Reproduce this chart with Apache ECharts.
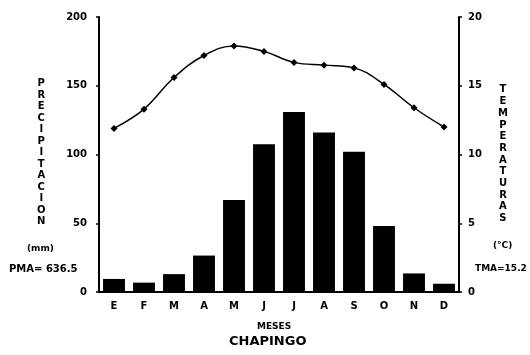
<!DOCTYPE html>
<html>
<head>
<meta charset="utf-8">
<script src="https://cdn.jsdelivr.net/npm/echarts@6/dist/echarts.min.js"></script>
<style>
  html, body { margin: 0; padding: 0; background: #fff; }
  #chart { width: 530px; height: 355px; }
</style>
</head>
<body>
<div id="chart"></div>
<script>
// meses (inicial de cada mes)
const months = ['E', 'F', 'M', 'A', 'M', 'J', 'J', 'A', 'S', 'O', 'N', 'D'];
// precipitacion mensual (mm)
const precip = [9.5, 6.8, 13, 26.5, 67, 107.5, 131, 116, 102, 48, 13.5, 6];
// temperatura media mensual (°C)
const temp = [11.9, 13.3, 15.6, 17.2, 17.9, 17.5, 16.7, 16.5, 16.3, 15.1, 13.4, 12.0];
const precipTicks = [0, 50, 100, 150, 200];
const tempTicks = [0, 5, 10, 15, 20];

const FONT = 'DejaVu Sans';
const chart = echarts.init(document.getElementById('chart'));

const stack = (s) => s.split('').join('\n');

chart.setOption({
    animation: false,
    backgroundColor: '#fff',
    textStyle: { fontFamily: FONT, color: '#000' },
    grid: { left: 99, right: 71, top: 17, bottom: 63 },
    xAxis: {
        type: 'category',
        data: months,
        axisLine: { lineStyle: { color: '#000', width: 2 } },
        axisTick: { alignWithLabel: true, length: 3, lineStyle: { color: '#000', width: 2 } },
        axisLabel: { color: '#000', fontWeight: 'bold', fontSize: 10, margin: 9, fontFamily: FONT }
    },
    yAxis: [
        {
            type: 'value', min: precipTicks[0], max: precipTicks[precipTicks.length - 1], interval: 50,
            axisLine: { show: true, lineStyle: { color: '#000', width: 2 } },
            axisTick: { show: true, length: 3, lineStyle: { color: '#000', width: 1.5 } },
            axisLabel: { color: '#000', fontWeight: 'bold', fontSize: 10, margin: 12, fontFamily: FONT },
            splitLine: { show: false }
        },
        {
            type: 'value', min: tempTicks[0], max: tempTicks[tempTicks.length - 1], interval: 5,
            axisLine: { show: true, lineStyle: { color: '#000', width: 2 } },
            axisTick: { show: true, length: 3, lineStyle: { color: '#000', width: 1.5 } },
            axisLabel: { color: '#000', fontWeight: 'bold', fontSize: 10, margin: 9, fontFamily: FONT },
            splitLine: { show: false }
        }
    ],
    series: [
        {
            type: 'bar',
            data: precip,
            barCategoryGap: '27%',
            itemStyle: { color: '#000' }
        },
        {
            type: 'line',
            yAxisIndex: 1,
            data: temp,
            smooth: 0.4,
            symbol: 'diamond',
            symbolSize: 7,
            lineStyle: { color: '#000', width: 1.5 },
            itemStyle: { color: '#000' }
        }
    ],
    graphic: [
        { type: 'text', left: 37, top: 78, style: { text: stack('PRECIPITACION'), font: 'bold 10px "DejaVu Sans"', lineHeight: 11.5, textAlign: 'center', fill: '#000' } },
        { type: 'text', left: 27, top: 244, style: { text: '(mm)', font: 'bold 9px "DejaVu Sans"', fill: '#000' } },
        { type: 'text', left: 9, top: 264, style: { text: 'PMA= 636.5', font: 'bold 10px "DejaVu Sans"', fill: '#000' } },
        { type: 'text', left: 498, top: 84, style: { text: stack('TEMPERATURAS'), font: 'bold 10px "DejaVu Sans"', lineHeight: 11.7, textAlign: 'center', fill: '#000' } },
        { type: 'text', left: 493, top: 241, style: { text: '(°C)', font: 'bold 9px "DejaVu Sans"', fill: '#000' } },
        { type: 'text', left: 475, top: 264, style: { text: 'TMA=15.2', font: 'bold 9px "DejaVu Sans"', fill: '#000' } },
        { type: 'text', left: 257, top: 322, style: { text: 'MESES', font: 'bold 9px "DejaVu Sans"', fill: '#000' } },
        { type: 'text', left: 229, top: 335, style: { text: 'CHAPINGO', font: 'bold 13px "DejaVu Sans"', fill: '#000' } }
    ]
});
</script>
</body>
</html>
